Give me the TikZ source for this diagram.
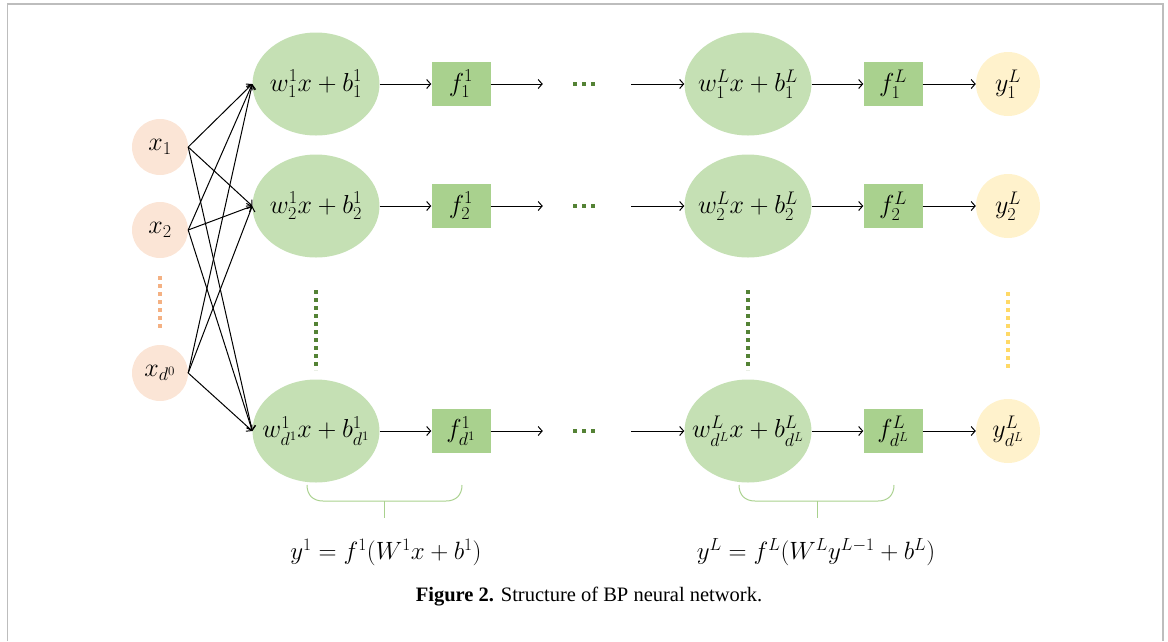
\RequirePackage{fix-cm}
\documentclass[tikz,border=0pt]{standalone}
\usepackage{amsmath}
\usepackage{fontspec}
\newfontfamily\capfont{Liberation Serif}
\usetikzlibrary{arrows.meta,shapes.geometric}
\definecolor{peach}{HTML}{FBE5D6}
\definecolor{lgreen}{HTML}{C5E0B4}
\definecolor{mgreen}{HTML}{A9D18E}
\definecolor{dgreen}{HTML}{548235}
\definecolor{yel}{HTML}{FFF2CC}
\definecolor{ydot}{HTML}{FFD966}
\definecolor{odot}{HTML}{F4B183}
\definecolor{framec}{HTML}{BDBDBD}
\begin{document}
\begin{tikzpicture}[x=1pt,y=-1pt,
  txt/.style={font=\fontsize{26}{30}\selectfont},
  inp/.style={circle, fill=peach, minimum size=56pt, inner sep=-8pt, txt},
  ell/.style={ellipse, fill=lgreen, minimum width=127pt, minimum height=103pt, inner sep=-12pt, txt},
  act/.style={rectangle, fill=mgreen, minimum width=59pt, minimum height=44pt, inner sep=0pt, txt},
  outc/.style={circle, fill=yel, minimum size=64pt, inner sep=-8pt, txt},
  gap/.style={minimum width=88pt, minimum height=10pt, inner sep=0pt},
  arr/.style={-{Straight Barb[length=4pt,width=9pt]}, line width=1pt},
  vdots/.style={line width=4pt, dash pattern=on 4pt off 4pt},
  hdots/.style={line width=4pt, dash pattern=on 4pt off 5pt, dgreen},
  brace/.style={mgreen, line width=1pt},
  formula/.style={font=\fontsize{25}{30}\selectfont}
]
\useasboundingbox (0,0) rectangle (1168,641);
\draw[framec, line width=1.5pt] (7.5,641) -- (7.5,4) -- (1163,4) -- (1163,641);

% inputs
\node[inp] (x1) at (160,147) {$x_1$};
\node[inp] (x2) at (160,230) {$x_2$};
\node[inp] (xd) at (160,373) {$x_{d^0}$};
\draw[vdots, odot] (160,276) -- (160,328);

% layer 1
\node[ell] (e1) at (316,84) {$w_1^1x+b_1^1$};
\node[ell] (e2) at (316,206) {$w_2^1x+b_2^1$};
\node[ell] (e3) at (316,431) {$w_{d^1}^1x+b_{d^1}^1$};
\draw[vdots, dgreen] (316,290) -- (316,370);

\node[act] (f1) at (461,84) {$f_1^1$};
\node[act] (f2) at (461,206) {$f_2^1$};
\node[act] (f3) at (461,431) {$f_{d^1}^1$};

% gaps with dots
\node[gap] (g1) at (587,84) {};
\node[gap] (g2) at (587,206) {};
\node[gap] (g3) at (587,431) {};
\foreach \g in {g1,g2,g3}{
  \draw[hdots] ([xshift=-14pt]\g.center) -- ([xshift=8pt]\g.center);
}

% layer L
\node[ell] (l1) at (748,84) {$w_1^Lx+b_1^L$};
\node[ell] (l2) at (748,206) {$w_2^Lx+b_2^L$};
\node[ell] (l3) at (748,431) {$w_{d^L}^Lx+b_{d^L}^L$};
\draw[vdots, dgreen] (748,290) -- (748,370);

\node[act] (h1) at (893,84) {$f_1^L$};
\node[act] (h2) at (893,206) {$f_2^L$};
\node[act] (h3) at (893,431) {$f_{d^L}^L$};

\node[outc] (y1) at (1008,84) {$y_1^L$};
\node[outc] (y2) at (1008,206) {$y_2^L$};
\node[outc] (y3) at (1008,431) {$y_{d^L}^L$};
\draw[vdots, ydot] (1008,292) -- (1008,368);

% connections
\foreach \s in {x1,x2,xd}{
  \foreach \t in {e1,e2,e3}{
    \draw[arr] (\s.east) -- (\t.west);
  }
}
\foreach \i in {1,2,3}{
  \draw[arr] (e\i.east) -- (f\i.west);
  \draw[arr] (f\i.east) -- (g\i.west);
  \draw[arr] (g\i.east) -- (l\i.west);
  \draw[arr] (l\i.east) -- (h\i.west);
  \draw[arr] (h\i.east) -- (y\i.west);
}

% braces
\draw[brace] (307,485) .. controls (307,495) and (313,501) .. (323,501) -- (446,501)
  .. controls (456,501) and (462,495) .. (462,485);
\draw[brace] (384,501) -- (384,518);
\draw[brace] (739,485) .. controls (739,495) and (745,501) .. (755,501) -- (878,501)
  .. controls (888,501) and (894,495) .. (894,485);
\draw[brace] (817,501) -- (817,518);

% formulas
\node[formula] (fm1) at (386,552) {$y^1=f^1(W^1x+b^1)$};
\node[formula] (fm2) at (816,552) {$y^L=f^L(W^Ly^{L-1}+b^L)$};

% caption
\node[font=\capfont\fontsize{20.5}{24}\selectfont] (cap) at (589,597) {\textbf{Figure 2.} Structure of BP neural network.};
\end{tikzpicture}
\end{document}
